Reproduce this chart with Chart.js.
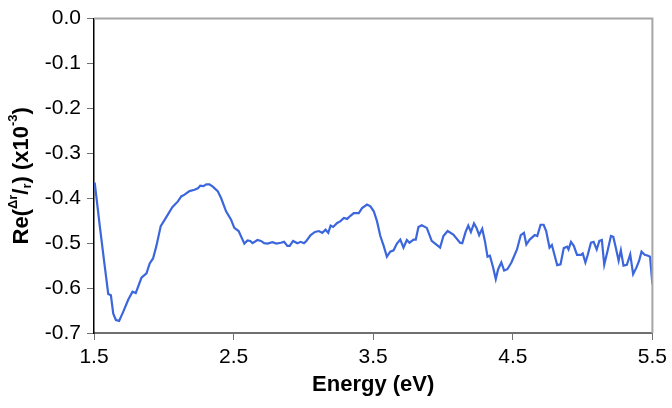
<!DOCTYPE html>
<html>
<head>
<meta charset="utf-8">
<script src="https://cdn.jsdelivr.net/npm/chart.js@4/dist/chart.umd.min.js"></script>
<style>
  html, body { margin: 0; padding: 0; background: #fff; }
</style>
</head>
<body>
<canvas id="chart" width="672" height="408"></canvas>
<script>
// energy (eV) and Re(Δr/r) x10^-3
const energy = [
  1.505, 1.543, 1.578, 1.602, 1.621, 1.638, 1.657, 1.680, 1.709, 1.745,
  1.776, 1.799, 1.840, 1.876, 1.899, 1.923, 1.947, 1.978, 2.018, 2.061,
  2.101, 2.125, 2.149, 2.184, 2.220, 2.244, 2.261, 2.284, 2.304, 2.327,
  2.351, 2.386, 2.411, 2.446, 2.482, 2.505, 2.536, 2.577, 2.600, 2.619,
  2.636, 2.671, 2.696, 2.719, 2.743, 2.778, 2.807, 2.838, 2.862, 2.885,
  2.902, 2.926, 2.957, 2.981, 3.004, 3.021, 3.052, 3.083, 3.111, 3.135,
  3.159, 3.178, 3.195, 3.213, 3.242, 3.266, 3.290, 3.313, 3.337, 3.361,
  3.397, 3.420, 3.456, 3.480, 3.504, 3.527, 3.551, 3.575, 3.598, 3.622,
  3.646, 3.670, 3.694, 3.717, 3.741, 3.760, 3.789, 3.805, 3.824, 3.848,
  3.884, 3.919, 3.955, 3.979, 4.003, 4.033, 4.074, 4.122, 4.138, 4.162,
  4.181, 4.200, 4.222, 4.240, 4.259, 4.281, 4.300, 4.319, 4.336, 4.359,
  4.378, 4.395, 4.418, 4.438, 4.461, 4.490, 4.530, 4.557, 4.580, 4.597,
  4.621, 4.657, 4.675, 4.699, 4.721, 4.739, 4.763, 4.780, 4.818, 4.842,
  4.865, 4.889, 4.899, 4.917, 4.937, 4.960, 4.989, 5.001, 5.020, 5.036,
  5.060, 5.079, 5.101, 5.120, 5.138, 5.155, 5.179, 5.203, 5.220, 5.238,
  5.258, 5.274, 5.293, 5.317, 5.341, 5.362, 5.386, 5.405, 5.422, 5.445,
  5.469, 5.483, 5.500
];
const reValue = [
  -0.365, -0.466, -0.554, -0.613, -0.616, -0.657, -0.671, -0.673, -0.653, -0.626,
  -0.608, -0.611, -0.577, -0.567, -0.545, -0.534, -0.506, -0.462, -0.442, -0.420,
  -0.407, -0.396, -0.392, -0.384, -0.381, -0.378, -0.372, -0.373, -0.369, -0.369,
  -0.374, -0.384, -0.400, -0.429, -0.448, -0.466, -0.473, -0.501, -0.494, -0.495,
  -0.500, -0.493, -0.495, -0.500, -0.501, -0.498, -0.501, -0.499, -0.497, -0.506,
  -0.506, -0.495, -0.500, -0.497, -0.500, -0.495, -0.482, -0.475, -0.473, -0.477,
  -0.470, -0.477, -0.461, -0.464, -0.455, -0.451, -0.444, -0.446, -0.439, -0.433,
  -0.433, -0.422, -0.414, -0.418, -0.429, -0.451, -0.484, -0.506, -0.530, -0.519,
  -0.516, -0.501, -0.492, -0.510, -0.493, -0.499, -0.492, -0.492, -0.464, -0.460,
  -0.466, -0.495, -0.504, -0.510, -0.484, -0.473, -0.481, -0.499, -0.500, -0.475,
  -0.461, -0.475, -0.456, -0.466, -0.482, -0.468, -0.495, -0.530, -0.528, -0.554,
  -0.580, -0.558, -0.543, -0.561, -0.558, -0.543, -0.514, -0.482, -0.477, -0.503,
  -0.492, -0.482, -0.484, -0.459, -0.459, -0.473, -0.510, -0.504, -0.549, -0.547,
  -0.511, -0.508, -0.514, -0.497, -0.506, -0.526, -0.526, -0.523, -0.543, -0.527,
  -0.499, -0.497, -0.514, -0.495, -0.493, -0.548, -0.517, -0.484, -0.486, -0.510,
  -0.539, -0.516, -0.550, -0.548, -0.525, -0.569, -0.554, -0.539, -0.519, -0.526,
  -0.528, -0.530, -0.591
];
const xTicks = [1.5, 2.5, 3.5, 4.5, 5.5];
const yTicks = [0, -0.1, -0.2, -0.3, -0.4, -0.5, -0.6, -0.7];

const FONT = '"Liberation Sans", Arial, sans-serif';
const TICK_SIZE = 21;
const TITLE_SIZE = 22;

// y title with super/subscripts: Re(Δr/r) (x10-3)
const yTitlePlugin = {
  id: 'yTitle',
  afterDraw(chart) {
    const ctx = chart.ctx;
    const area = chart.chartArea;
    const parts = [
      { t: 'Re(', s: TITLE_SIZE, dy: 0 },
      { t: 'Δr', s: 13, dy: -9 },
      { t: '/', s: TITLE_SIZE, dy: 0 },
      { t: 'r', s: 13, dy: 5 },
      { t: ') (x10', s: TITLE_SIZE, dy: 0 },
      { t: '-3', s: 13, dy: -9 },
      { t: ')', s: TITLE_SIZE, dy: 0 },
    ];
    ctx.save();
    let total = 0;
    parts.forEach(p => {
      ctx.font = `bold ${p.s}px ${FONT}`;
      p.w = ctx.measureText(p.t).width;
      total += p.w;
    });
    ctx.translate(21, (area.top + area.bottom) / 2);
    ctx.rotate(-Math.PI / 2);
    ctx.fillStyle = '#000';
    ctx.textBaseline = 'middle';
    let x = -total / 2;
    parts.forEach(p => {
      ctx.font = `bold ${p.s}px ${FONT}`;
      ctx.fillText(p.t, x, p.dy + 1);
      x += p.w;
    });
    ctx.restore();
  }
};

// grey frame on top and right side of the plot
const framePlugin = {
  id: 'frame',
  afterDraw(chart) {
    const { ctx, chartArea: a } = chart;
    ctx.save();
    ctx.strokeStyle = '#a6a6a6';
    ctx.lineWidth = 2;
    ctx.beginPath();
    ctx.moveTo(a.left, a.top);
    ctx.lineTo(a.right, a.top);
    ctx.lineTo(a.right, a.bottom);
    ctx.stroke();
    ctx.restore();
  }
};

new Chart(document.getElementById('chart'), {
  type: 'line',
  data: {
    datasets: [{
      data: energy.map((e, i) => ({ x: e, y: reValue[i] })),
      borderColor: '#3b66dc',
      borderWidth: 2.2,
      pointRadius: 0,
      tension: 0,
      fill: false,
    }],
  },
  options: {
    responsive: false,
    animation: false,
    layout: { padding: { left: 0, top: 15, right: 17, bottom: 0 } },
    plugins: { legend: { display: false }, tooltip: { enabled: false } },
    scales: {
      x: {
        type: 'linear',
        min: 1.5,
        max: 5.5,
        afterBuildTicks: (s) => { s.ticks = xTicks.map(v => ({ value: v })); },
        afterFit: (s) => { s.height = 75; },
        grid: { drawOnChartArea: false, color: '#707070', tickLength: 7, lineWidth: 1 },
        border: { color: '#707070', width: 2 },
        ticks: {
          color: '#000',
          padding: 5,
          maxRotation: 0,
          font: { family: FONT, size: TICK_SIZE },
          callback: (v) => v.toFixed(1),
        },
        title: {
          display: true,
          text: 'Energy (eV)',
          color: '#000',
          padding: { top: 0, bottom: 10 },
          font: { family: FONT, size: TITLE_SIZE, weight: 'bold' },
        },
      },
      y: {
        min: -0.7,
        max: 0,
        afterBuildTicks: (s) => { s.ticks = yTicks.map(v => ({ value: v })); },
        afterFit: (s) => { s.width = 94; },
        grid: { drawOnChartArea: false, color: '#707070', tickLength: 7, lineWidth: 1 },
        border: { color: '#000', width: 1.5 },
        ticks: {
          color: '#000',
          padding: 6,
          font: { family: FONT, size: TICK_SIZE },
          callback: (v) => v.toFixed(1),
        },
      },
    },
  },
  plugins: [yTitlePlugin, framePlugin],
});
</script>
</body>
</html>
